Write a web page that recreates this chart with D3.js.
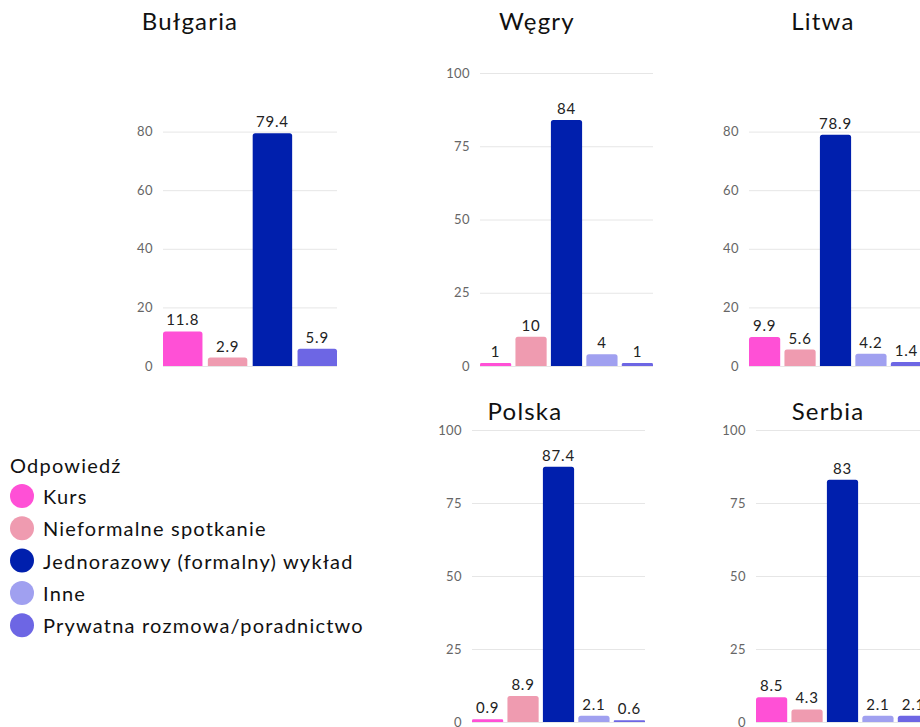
<!DOCTYPE html>
<html lang="pl">
<head>
<meta charset="utf-8">
<script src="https://cdn.jsdelivr.net/npm/d3@7"></script>
<style>
  html, body { margin: 0; padding: 0; background: #fff; }
  svg { display: block; font-family: "Lato", "Noto Sans", sans-serif; }
</style>
</head>
<body>
<svg id="chart" width="920" height="727"></svg>
<script>
// Response categories and their colours
const responses = [
  "Kurs",
  "Nieformalne spotkanie",
  "Jednorazowy (formalny) wykład",
  "Inne",
  "Prywatna rozmowa/poradnictwo"
];
const colors = ["#ff50d6", "#ef9bb0", "#001fad", "#a0a0f0", "#6d66e4"];

// Share of answers (%) per country, in the order of `responses`; null = no answer
const countries = ["Bułgaria", "Węgry", "Litwa", "Polska", "Serbia"];
const bulgaria = [11.8, 2.9, 79.4, null, 5.9];
const wegry    = [1, 10, 84, 4, 1];
const litwa    = [9.9, 5.6, 78.9, 4.2, 1.4];
const polska   = [0.9, 8.9, 87.4, 2.1, 0.6];
const serbia   = [8.5, 4.3, 83, 2.1, 2.1];

// Y-axis tick labels per country
const ticks20 = [0, 20, 40, 60, 80];
const ticks25 = [0, 25, 50, 75, 100];

const countryValues = [bulgaria, wegry, litwa, polska, serbia];
const countryTicks = [ticks20, ticks25, ticks20, ticks25, ticks25];

// Panel placement (plot area left/right, baseline, top, title centre)
const panels = [
  { x0: 163, x1: 337, yb: 366, yt: 73,  tx: 190, ty: 30 },
  { x0: 480, x1: 653, yb: 366, yt: 73,  tx: 537, ty: 30 },
  { x0: 749, x1: 922, yb: 366, yt: 73,  tx: 823, ty: 30 },
  { x0: 472, x1: 645, yb: 722, yt: 430, tx: 525, ty: 420 },
  { x0: 756, x1: 929, yb: 722, yt: 430, tx: 828, ty: 420 }
];

const svg = d3.select("#chart");
const color = d3.scaleOrdinal().domain(responses).range(colors);

countries.forEach((name, i) => {
  const p = panels[i];
  const rows = responses
    .map((r, j) => ({ response: r, value: countryValues[i][j] }))
    .filter(d => d.value !== null);

  const x = d3.scaleBand()
    .domain(rows.map(d => d.response))
    .range([p.x0, p.x1])
    .paddingInner(0.12)
    .paddingOuter(0);
  const y = d3.scaleLinear().domain([0, 100]).range([p.yb, p.yt]);

  const g = svg.append("g");

  // Gridlines and tick labels
  const axis = d3.axisLeft(y)
    .tickValues(countryTicks[i])
    .tickSize(-(p.x1 - p.x0))
    .tickPadding(10)
    .tickFormat(d3.format("d"));
  const ax = g.append("g")
    .attr("transform", `translate(${p.x0},0)`)
    .call(axis);
  ax.select(".domain").remove();
  ax.selectAll(".tick line").attr("stroke", "#e6e6e6").attr("stroke-width", 1);
  ax.selectAll(".tick text")
    .attr("fill", "#666")
    .attr("font-size", 13)
    .attr("letter-spacing", 0.4)
    .attr("font-family", "Lato, sans-serif");

  // Bars
  g.selectAll("path.bar")
    .data(rows)
    .join("path")
    .attr("class", "bar")
    .attr("fill", d => color(d.response))
    .attr("d", d => {
      const bx = x(d.response), bw = x.bandwidth();
      const top = y(d.value), bot = y(0);
      const r = Math.min(2.5, (bot - top) / 2);
      return `M${bx},${bot}V${top + r}Q${bx},${top} ${bx + r},${top}` +
             `H${bx + bw - r}Q${bx + bw},${top} ${bx + bw},${top + r}V${bot}Z`;
    });

  // Value labels
  g.selectAll("text.val")
    .data(rows)
    .join("text")
    .attr("class", "val")
    .attr("x", d => x(d.response) + x.bandwidth() / 2)
    .attr("y", d => y(d.value) - 6)
    .attr("text-anchor", "middle")
    .attr("font-size", 15)
    .attr("letter-spacing", 0.8)
    .attr("fill", "#222")
    .text(d => String(d.value));

  // Country title
  g.append("text")
    .attr("x", p.tx)
    .attr("y", p.ty)
    .attr("text-anchor", "middle")
    .attr("font-size", 24)
    .attr("letter-spacing", 1.2)
    .attr("fill", "#111")
    .text(name);
});

// Legend
const legend = svg.append("g");
legend.append("text")
  .attr("x", 10).attr("y", 473)
  .attr("font-size", 20)
  .attr("letter-spacing", 1.2)
  .attr("fill", "#111")
  .text("Odpowiedź");
const items = legend.selectAll("g.item")
  .data(responses)
  .join("g")
  .attr("class", "item")
  .attr("transform", (d, i) => `translate(0,${496 + i * 32.3})`);
items.append("circle")
  .attr("cx", 22).attr("cy", 0).attr("r", 12)
  .attr("fill", d => color(d));
items.append("text")
  .attr("x", 43).attr("y", 8)
  .attr("font-size", 20)
  .attr("letter-spacing", 1.2)
  .attr("fill", "#111")
  .text(d => d);
</script>
</body>
</html>
